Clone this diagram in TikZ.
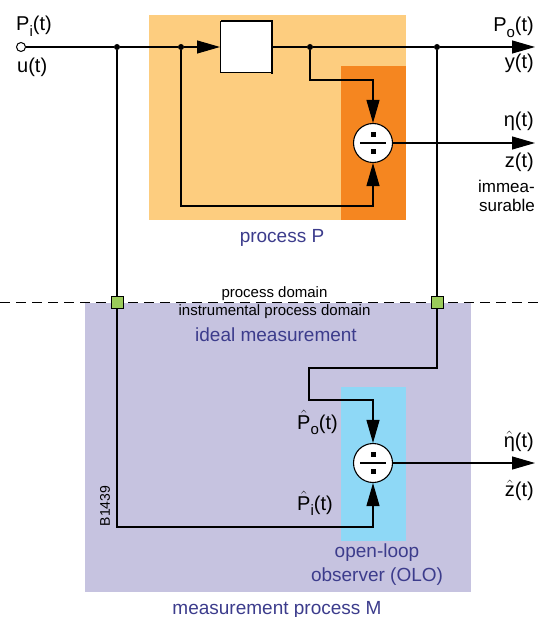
\documentclass[tikz,border=0pt]{standalone}
\usepackage{fontspec}
\setmainfont{Liberation Sans}
\usepackage{tikz}
\usetikzlibrary{positioning,calc,arrows.meta}
\definecolor{mylight}{RGB}{253,205,127}
\definecolor{myorange}{RGB}{245,134,32}
\definecolor{mylilac}{RGB}{198,195,224}
\definecolor{mysky}{RGB}{142,216,246}
\definecolor{mygreen}{RGB}{155,203,90}
\definecolor{myblue}{RGB}{60,60,140}
\newcommand{\lowsub}[1]{\raisebox{-5.5pt}{\fontsize{15}{15}\selectfont #1}}
\newcommand{\hatof}[1]{$\hat{\mbox{#1}}$}

\begin{document}
\begin{tikzpicture}[x=1pt,y=-1pt,
          wire/.style={line width=1.1pt},
          sig/.style={wire,-{Triangle[length=23pt,width=13pt]}},
          jdot/.style={circle,fill,inner sep=0pt,minimum size=6pt},
          sqnode/.style={draw,fill=mygreen,line width=0.9pt,inner sep=0pt,minimum size=12pt},
          divnode/.style={circle,draw,line width=1.1pt,fill=white,inner sep=0pt,minimum size=39pt,
            path picture={
              \coordinate (dc) at (path picture bounding box.center);
              \draw[black,line width=1.1pt] ([xshift=-13pt]dc) -- ([xshift=13pt]dc);
              \fill[black] ([shift={(-2.5pt,6pt)}]dc) rectangle ([shift={(2.5pt,11pt)}]dc);
              \fill[black] ([shift={(-2.5pt,-6pt)}]dc) rectangle ([shift={(2.5pt,-11pt)}]dc);
            }},
          lab/.style={inner sep=0pt,font=\fontsize{20}{22}\selectfont},
          small/.style={inner sep=0pt,font=\fontsize{15}{17}\selectfont},
          title/.style={inner sep=0pt,text=myblue,font=\fontsize{19}{24}\selectfont}
          ]
          \useasboundingbox (0,0) rectangle (538,617);

          % the areas
          \fill[mylight] (149,15) rectangle (406,220);
          \fill[myorange] (341,66) rectangle (406,220);
          \fill[mylilac] (85,303) rectangle (471,592);
          \fill[mysky] (341,387) rectangle (406,541);

          % the domain border
          \draw[line width=1pt,dash pattern=on 10pt off 6pt] (0,302) -- (538,302);

          % the blocks
          \node[circle,draw,fill=white,line width=1pt,inner sep=0pt,minimum size=9pt] (in) at (21,47) {};
          \node[draw,fill=white,line width=1pt,inner sep=0pt,minimum width=51pt,minimum height=51pt] (blk) at (246,47) {};
          \draw[line width=2.2pt] ([xshift=1pt]blk.north west) -- (blk.north east) -- ([yshift=-1pt]blk.south east);
          \node[divnode] (divP) at (373,143) {};
          \node[divnode] (divM) at (373,463) {};

          % the junctions
          \foreach \i/\xcoord in {1/117,2/181,3/310,4/437}
            \node[jdot] (j\i) at (\xcoord,47) {};
          \coordinate (outP) at (535,47);
          \coordinate (outZ) at (535,143);
          \coordinate (outM) at (535,463);

          % the edges
          \draw[wire] (in) -- (j1) -- (j2);
          \draw[sig] (j2) -- (blk);
          \draw[wire] (blk) -- (j3) -- (j4);
          \draw[sig] (j4) -- (outP);
          \draw[sig] (j3) -- (310,80) -| (divP.north);
          \draw[sig] (j2) -- (181,206) -| (divP.south);
          \draw[sig] (divP) -- (outZ);
          \draw[sig] (j1) -- (117,527) -| (divM.south);
          \draw[sig] (j4) -- (437,368) -| (309,400) -| (divM.north);
          \draw[sig] (divM) -- (outM);

          % the transfer points
          \foreach \i/\xcoord in {1/117,2/437}
            \node[sqnode] (sq\i) at (\xcoord,302) {};

          % the signals
          \node[lab,anchor=base west] (lPi) at (16,31) {P\lowsub{i}(t)};
          \node[lab,anchor=base west] (lu) at (17,73) {u(t)};
          \node[lab,anchor=base east] (lPo) at (534,32) {P\lowsub{o}(t)};
          \node[lab,anchor=base east] (ly) at (534,69) {y(t)};
          \node[lab,anchor=base east] (leta) at (534,127) {η(t)};
          \node[lab,anchor=base east] (lz) at (534,168) {z(t)};
          \node[inner sep=0pt,font=\fontsize{17}{19}\selectfont,align=right,anchor=north east] (limm) at (535,180) {immea-\\surable};
          \node[lab,anchor=base west] (lPho) at (297,429) {\hatof{P}\lowsub{o}(t)};
          \node[lab,anchor=base west] (lPhi) at (297,510) {\hatof{P}\lowsub{i}(t)};
          \node[lab,anchor=base east] (letah) at (534,447) {\hatof{η}(t)};
          \node[lab,anchor=base east] (lzh) at (534,496) {\hatof{z}(t)};

          % the labels
          \node[title,anchor=base] (lprocP) at (282,242) {process P};
          \node[small,anchor=base] (ldomP) at (274.5,297) {process domain};
          \node[small,anchor=base] (ldomI) at (274.5,315) {instrumental process domain};
          \node[title,anchor=base] (lideal) at (276,341) {ideal measurement};
          \node[title,align=center,anchor=north] (lolo) at (377,544) {open-loop\\observer (OLO)};
          \node[title,anchor=base] (lmeasM) at (277,614) {measurement process M};
          \node[inner sep=0pt,rotate=90,font=\fontsize{14}{14}\selectfont] (lcode) at (105,506) {B1439};
        \end{tikzpicture}
\end{document}
